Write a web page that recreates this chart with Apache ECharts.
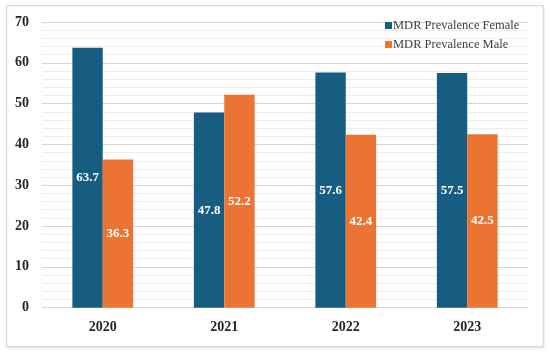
<!DOCTYPE html>
<html><head><meta charset="utf-8">
<script src="https://cdn.jsdelivr.net/npm/echarts@6/dist/echarts.min.js"></script>
<style>html,body{margin:0;padding:0;background:#fff}#c{width:550px;height:352px}</style>
</head><body><div id="c"></div>
<script>
const categories = ['2020', '2021', '2022', '2023'];
const femaleValues = [63.7, 47.8, 57.6, 57.5];
const maleValues = [36.3, 52.2, 42.4, 42.5];
const seriesNames = ['MDR Prevalence Female', 'MDR Prevalence Male'];
const yTicks = { min: 0, max: 70, interval: 10 };

const chart = echarts.init(document.getElementById('c'));
const serif = 'Liberation Serif';
const label = {
  show: true, position: 'inside', color: '#ffffff',
  fontFamily: serif, fontSize: 13, fontWeight: 'bold'
};
chart.setOption({
  animation: false,
  textStyle: { fontFamily: serif },
  graphic: [{
    type: 'rect', left: 6, top: 5, z: -10,
    shape: { width: 537, height: 341 },
    style: { fill: '#fff', stroke: '#d9d9d9', lineWidth: 1, shadowColor: 'rgba(0,0,0,0.12)', shadowBlur: 3, shadowOffsetY: 1 }
  }],
  grid: { left: 42, right: 22, top: 22, bottom: 44.3, containLabel: false },
  legend: {
    orient: 'vertical', left: 380, top: 14, itemGap: 6,
    itemWidth: 7, itemHeight: 7, icon: 'rect',
    formatter: '{t|{name}}',
    textStyle: {
      fontFamily: serif, fontSize: 12.5, color: '#404040',
      rich: { t: { fontFamily: serif, fontSize: 12.5, color: '#404040', padding: [0, 0, 0, -4] } }
    },
    data: seriesNames
  },
  xAxis: {
    type: 'category', data: categories,
    axisLine: { lineStyle: { color: '#d9d9d9' } },
    axisTick: { show: false },
    axisLabel: { fontFamily: serif, fontSize: 14, fontWeight: 'bold', color: '#262626', margin: 13 }
  },
  yAxis: {
    type: 'value', min: yTicks.min, max: yTicks.max, interval: yTicks.interval,
    axisLine: { show: false }, axisTick: { show: false },
    axisLabel: { fontFamily: serif, fontSize: 14, fontWeight: 'bold', color: '#262626', margin: 13 },
    splitLine: { lineStyle: { color: '#d4d4d4', width: 1 } },
    minorTick: { show: false, splitNumber: 5 },
    minorSplitLine: { show: true, lineStyle: { color: '#ececec', width: 1 } }
  },
  series: [
    { name: seriesNames[0], type: 'bar', data: femaleValues, barGap: '0%', barCategoryGap: '50%',
      itemStyle: { color: '#175d81' }, label: label },
    { name: seriesNames[1], type: 'bar', data: maleValues,
      itemStyle: { color: '#eb7433' }, label: label }
  ]
});
</script></body></html>
